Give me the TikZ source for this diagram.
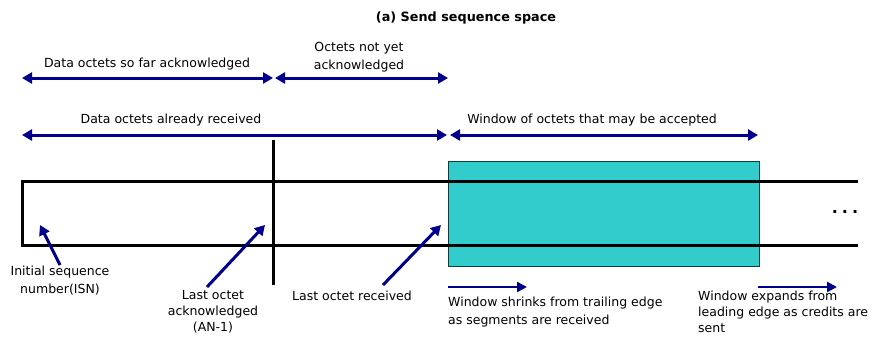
\documentclass[tikz,border=0pt]{standalone}
\usepackage{fontspec}
\setmainfont{DejaVu Sans}
\usetikzlibrary{positioning, arrows.meta, calc}
\definecolor{spanblue}{RGB}{0,0,140}
\definecolor{windowfill}{RGB}{51,204,204}
\tikzset{
  span/.style={draw=spanblue, line width=3pt,
    {Triangle[length=10pt,width=11pt]}-{Triangle[length=10pt,width=11pt]}},
  pointer/.style={draw=spanblue, line width=3pt, -{Triangle[length=10pt,width=11pt]}},
  slide/.style={draw=spanblue, line width=2.4pt, -{Triangle[length=10pt,width=10pt]}},
  rail/.style={draw=black, line width=3pt},
  windowbox/.style={fill=windowfill, draw=black!70!windowfill, line width=1pt},
  caption/.style={font=\fontsize{12.5}{18}\selectfont, inner sep=0pt, align=center},
  leftcaption/.style={caption, align=left, anchor=north west},
}
\begin{document}
\begin{tikzpicture}[x=1pt, y=-1pt]
  \useasboundingbox (0,0) rectangle (878,338);
  % title
  \node[font=\bfseries\fontsize{12.8}{14}\selectfont] (title) at (466,18) {(a) Send sequence space};
  % window of octets
  \coordinate (winBoxTL) at (448,161);
  \coordinate (winBoxBR) at (759,266);
  \path[windowbox] (winBoxTL) rectangle (winBoxBR);
  % sequence space rails
  \coordinate (railTL) at (22,181);
  \coordinate (railBL) at (22,245);
  \coordinate (railTR) at (858,181);
  \coordinate (railBR) at (858,245);
  \draw[rail] (railTR) -- (railTL) -- (railBL) -- (railBR);
  \coordinate (ackTop) at (273,140);
  \coordinate (ackBot) at (273,285);
  \draw[rail] (ackTop) -- (ackBot);
  \node[font=\bfseries\fontsize{16}{16}\selectfont] (dots) at (845,212) {.\hspace{4pt}.\hspace{4pt}.};
  % spans, first row
  \coordinate (ackL) at (22,78);
  \coordinate (ackR) at (273,78);
  \coordinate (unackL) at (275,78);
  \coordinate (unackR) at (448,78);
  \draw[span] (ackL) -- (ackR);
  \draw[span] (unackL) -- (unackR);
  \node[caption] (ackText) at (147,64) {Data octets so far acknowledged};
  \node[caption] (unackText) at (359,57) {Octets not yet\\acknowledged};
  % spans, second row
  \coordinate (rcvL) at (22,135);
  \coordinate (rcvR) at (447,135);
  \coordinate (winL) at (450,135);
  \coordinate (winR) at (758,135);
  \draw[span] (rcvL) -- (rcvR);
  \draw[span] (winL) -- (winR);
  \node[caption] (rcvText) at (171,120) {Data octets already received};
  \node[caption] (winText) at (592,120) {Window of octets that may be accepted};
  % pointers into the space
  \coordinate (isnTail) at (60,265);
  \coordinate (isnHead) at (40,225);
  \coordinate (lastAckTail) at (207,287);
  \coordinate (lastAckHead) at (265,225);
  \coordinate (lastRcvTail) at (383,285);
  \coordinate (lastRcvHead) at (441,225);
  \draw[pointer] (isnTail) -- (isnHead);
  \draw[pointer] (lastAckTail) -- (lastAckHead);
  \draw[pointer] (lastRcvTail) -- (lastRcvHead);
  \node[caption] (isnText) at (60,281) {Initial sequence\\number(ISN)};
  \node[caption, font=\fontsize{12.5}{16}\selectfont, anchor=north] (lastAckText) at (213,290) {Last octet\\acknowledged\\(AN-1)};
  \node[caption] (lastRcvText) at (352,296) {Last octet received};
  % window movement
  \coordinate (shrinkL) at (448,287);
  \coordinate (shrinkR) at (527,287);
  \coordinate (expandL) at (758,287);
  \coordinate (expandR) at (837,287);
  \draw[slide] (shrinkL) -- (shrinkR);
  \draw[slide] (expandL) -- (expandR);
  \node[leftcaption] (shrinkText) at (448,297) {Window shrinks from trailing edge\\as segments are received};
  \node[leftcaption, font=\fontsize{12.5}{16}\selectfont] (expandText) at (698,291) {Window expands from\\leading edge as credits are\\sent};
\end{tikzpicture}
\end{document}
